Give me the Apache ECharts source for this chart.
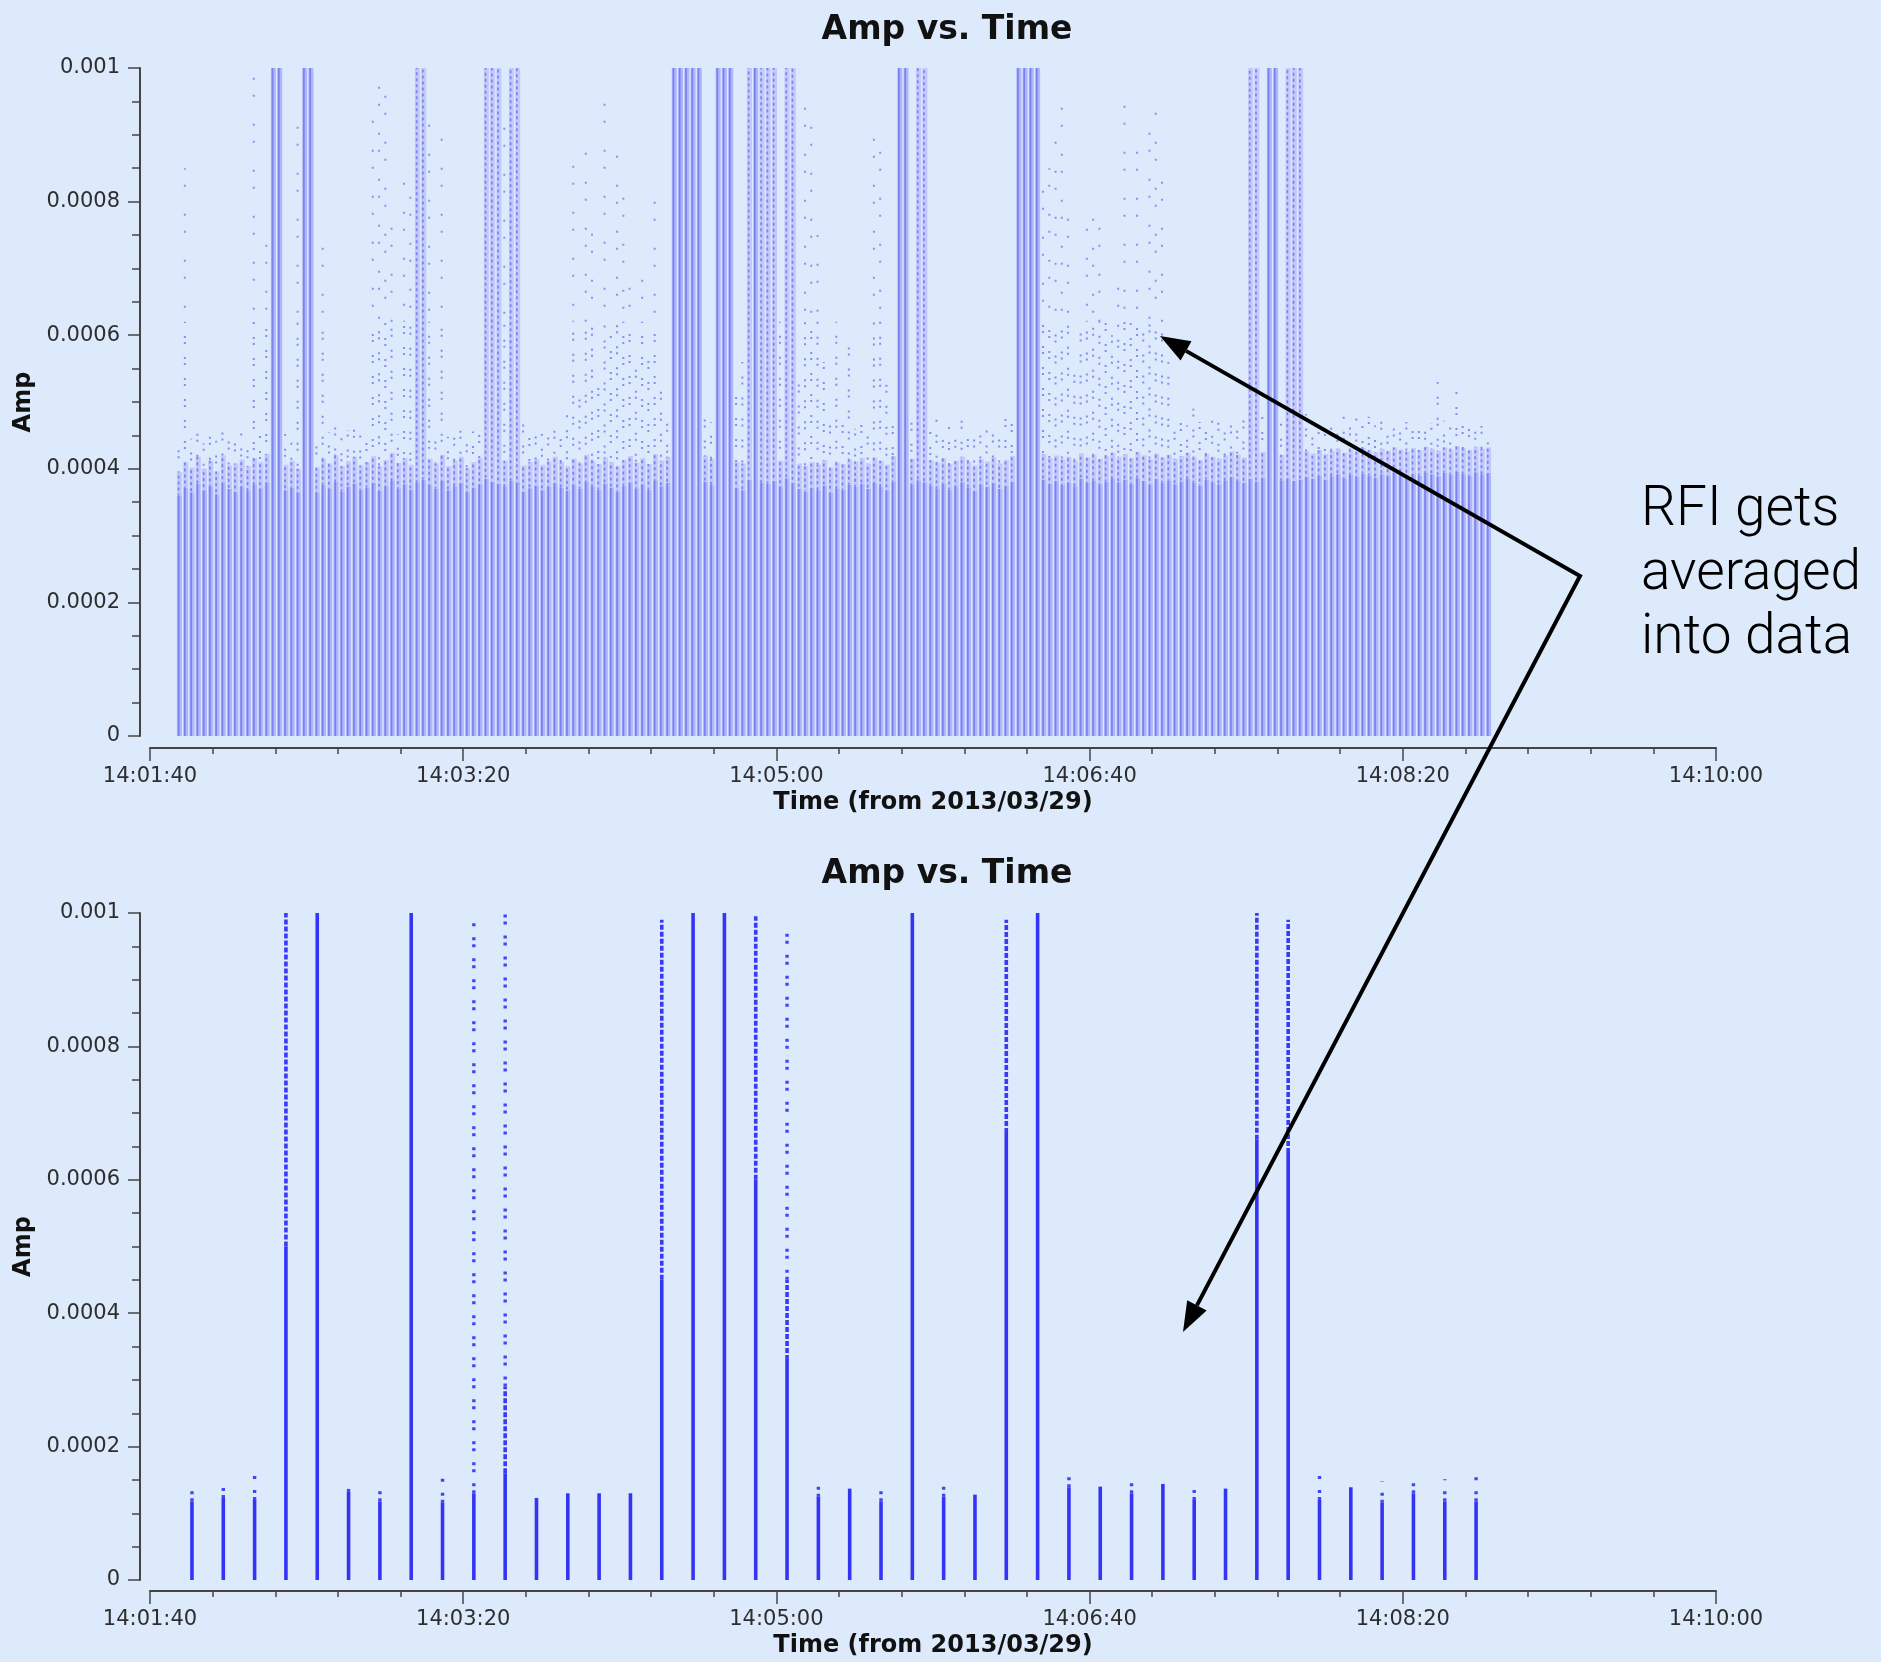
<!DOCTYPE html>
<html><head><meta charset="utf-8">
<script src="https://cdn.jsdelivr.net/npm/echarts@6/dist/echarts.min.js"></script>
<style>html,body{margin:0;padding:0;background:#dceafc;}#c{width:1881px;height:1662px;}</style>
</head><body><div id="c"></div><script>
// ---------- data (amplitudes in units of 1e-6) ----------
const AMP_UNIT = 1e-6;
// time grid, seconds of day (14:01:40 = 50500 s)
const TOP_T0 = 50509.4, TOP_DT = 2;   // 2 s integrations (upper panel)
const BOT_T0 = 50513.4, BOT_DT = 10;  // 10 s averages (lower panel)
const xTickLabels = ['14:01:40','14:03:20','14:05:00','14:06:40','14:08:20','14:10:00'];
const yTickLabels = ['0','0.0002','0.0004','0.0006','0.0008','0.001'];

// upper panel: top of solid points, top of dense points, top of sparse points
const topSolid = [
 360,372,365,378,368,375,362,380,370,366,
 374,368,377,371,380,1000,1000,368,372,365,
 1000,1000,364,376,370,381,366,373,378,369,
 372,379,367,375,383,371,377,369,380,384,
 376,370,382,368,374,379,365,372,377,385,
 381,378,374,383,380,366,371,375,368,373,
 379,372,367,376,370,381,374,369,378,372,
 366,375,380,371,377,369,383,374,379,1000,
 1000,1000,1000,1000,381,376,1000,1000,1000,372,
 368,384,1000,380,378,382,374,386,379,370,
 366,372,368,375,364,371,369,376,373,378,
 370,379,374,368,381,1000,1000,377,383,380,
 375,371,378,369,374,380,372,367,376,373,
 379,370,375,381,1000,1000,1000,1000,384,378,
 382,376,380,374,385,379,383,377,381,386,
 380,384,378,387,382,376,385,379,383,377,
 381,386,379,375,384,380,377,382,388,383,
 379,385,381,387,1000,1000,383,386,382,384,
 388,385,390,384,389,392,386,391,388,393,
 390,387,392,389,394,391,388,393,390,395,
 392,389,394,391,396,393,390,395,392,394];
const topDense = [
 395,410,402,418,400,412,396,420,405,408,
 414,404,416,410,422,1000,1000,406,412,400,
 1000,1000,402,415,408,420,404,411,418,405,
 410,419,404,413,424,409,416,406,1000,1000,
 415,408,421,404,412,418,401,410,416,1000,
 1000,1000,412,1000,1000,405,410,414,406,411,
 418,410,404,415,408,421,412,407,417,410,
 404,413,419,409,416,407,422,412,418,1000,
 1000,1000,1000,1000,420,415,1000,1000,1000,410,
 408,1000,1000,1000,1000,1000,412,1000,1000,408,
 404,410,406,413,402,409,407,414,411,416,
 408,417,412,406,419,1000,1000,415,1000,1000,
 413,409,416,407,412,418,410,405,414,411,
 417,408,413,419,1000,1000,1000,1000,422,416,
 420,414,418,412,423,417,421,415,419,424,
 418,422,416,425,420,414,423,417,421,415,
 419,424,417,413,422,418,415,420,426,421,
 417,1000,1000,425,1000,1000,421,1000,1000,1000,
 426,423,428,422,427,430,424,429,426,431,
 428,425,430,427,432,429,426,431,428,433,
 430,427,432,429,434,431,428,433,430,432];
const topSparse = [
 440,850,445,455,438,450,442,460,448,452,
 456,447,1000,450,760,1000,1000,452,445,915,
 1000,1000,448,750,455,462,446,458,465,450,
 455,930,1000,970,790,452,850,810,1000,1000,
 920,455,900,448,460,470,445,456,462,1000,
 1000,1000,950,1000,1000,470,458,465,452,460,
 468,455,480,890,520,880,770,540,950,600,
 880,840,700,560,720,580,800,520,470,1000,
 1000,1000,1000,1000,480,470,1000,1000,1000,520,
 560,1000,1000,1000,1000,1000,620,1000,1000,540,
 950,930,750,560,480,620,470,590,460,480,
 465,920,900,530,470,1000,1000,480,1000,1000,
 460,475,455,468,450,472,460,448,466,458,
 470,462,475,480,1000,1000,1000,1000,820,850,
 890,960,780,560,620,760,790,770,650,600,
 710,960,640,890,620,930,950,840,560,470,
 480,465,490,470,455,472,485,468,478,462,
 475,1000,1000,480,1000,1000,470,1000,1000,1000,
 482,475,478,470,474,468,480,472,476,470,
 478,465,472,468,475,462,470,466,474,460,
 468,530,472,465,520,470,462,468,464,458];

// lower panel (10 s averages)
const botSolid = [
 118,123,120,500,1000,132,118,1000,116,130,
 160,123,130,130,130,450,1000,1000,600,330,
 125,137,118,1000,125,128,670,1000,139,140,
 130,144,120,137,660,640,120,139,116,130,
 118,118];
const botDense = [
 118,123,120,1000,1000,132,118,1000,116,130,
 290,123,130,130,130,990,1000,1000,995,450,
 125,137,118,1000,125,128,990,1000,139,140,
 130,144,120,137,1000,990,120,139,116,130,
 118,118];
const botSparse = [
 142,142,157,1000,1000,137,142,1000,155,990,
 1000,123,130,130,130,990,1000,1000,995,975,
 150,137,142,1000,144,128,990,1000,156,140,
 151,144,142,137,1000,990,156,139,148,151,
 151,156];

// ---------- build ----------
const topData = topSolid.map((s,i)=>[TOP_T0+TOP_DT*i, s*AMP_UNIT, topDense[i]*AMP_UNIT, topSparse[i]*AMP_UNIT]);
const botData = botSolid.map((s,i)=>[BOT_T0+BOT_DT*i, s*AMP_UNIT, botDense[i]*AMP_UNIT, botSparse[i]*AMP_UNIT]);
const DENSE_SPLIT = 0.00062; // sparse points thin out above this level (styling)
// deterministic dash phase per column, to avoid moire between neighbouring columns
const phase = (k, m) => ((k*k*13 + k*29 + 7) % 41) % m;

function renderTop(params, api){
  const t=api.value(0), s=api.value(1), d=api.value(2), p=api.value(3);
  const b=api.coord([t,0]), cs=api.coord([t,s]), cd=api.coord([t,d]), cp=api.coord([t,p]);
  const x=b[0], ch=[], k=params.dataIndex;
  ch.push({type:'rect', shape:{x:x-2.5,y:cs[1],width:5,height:b[1]-cs[1]}, style:{fill:'#b0b6fa'}});
  ch.push({type:'rect', shape:{x:x-1.7,y:cs[1],width:1.7,height:b[1]-cs[1]}, style:{fill:'#7a81f0'}});
  if(d>s){
    ch.push({type:'rect', shape:{x:x-2.5,y:cd[1],width:5,height:cs[1]-cd[1]}, style:{fill:'#c4c9fb'}});
    ch.push({type:'line', shape:{x1:x-0.85,y1:cs[1],x2:x-0.85,y2:cd[1]}, style:{stroke:'#7a81f0',lineWidth:1.7,lineDash:[3,3],lineDashOffset:phase(k,6)}});
  }
  if(p>d){
    const pm = Math.min(p, Math.max(d, DENSE_SPLIT));
    const cm = api.coord([t,pm]);
    ch.push({type:'line', shape:{x1:x-0.85,y1:cd[1],x2:x-0.85,y2:cm[1]}, style:{stroke:'#858cf2',lineWidth:2,lineDash:[2,4,2,13],lineDashOffset:phase(k,21)}});
    if(p>pm) ch.push({type:'line', shape:{x1:x-0.85,y1:cm[1],x2:x-0.85,y2:cp[1]}, style:{stroke:'#8b92f3',lineWidth:2,lineDash:[2,15,2,27],lineDashOffset:phase(k+3,41)}});
  }
  return {type:'group', children:ch};
}
function renderBot(params, api){
  const t=api.value(0), s=api.value(1), d=api.value(2), p=api.value(3);
  const b=api.coord([t,0]), cs=api.coord([t,s]), cd=api.coord([t,d]), cp=api.coord([t,p]);
  const x=b[0], ch=[];
  ch.push({type:'line', shape:{x1:x,y1:b[1],x2:x,y2:cs[1]}, style:{stroke:'#3434f5',lineWidth:3.6}});
  if(d>s) ch.push({type:'line', shape:{x1:x,y1:cs[1],x2:x,y2:cd[1]}, style:{stroke:'#3a3af5',lineWidth:3.6,lineDash:[5,2]}});
  if(p>d) ch.push({type:'line', shape:{x1:x,y1:cd[1],x2:x,y2:cp[1]}, style:{stroke:'#4444f5',lineWidth:3.4,lineDash:[3,4,3,11]}});
  return {type:'group', children:ch};
}

function textW(font, s){const c=document.createElement('canvas').getContext('2d'); c.font=font; return c.measureText(s).width;}
const FONT='DejaVu Sans';
const titleW = textW('bold 33px "DejaVu Sans"','Amp vs. Time');
const fmtX = v => xTickLabels[Math.round((v-50500)/100)];
const fmtY = v => yTickLabels[Math.round(v/0.0002)];

function xAx(g, off){
  return {gridIndex:g, type:'value', min:50500, max:51000, interval:100, offset:off,
    axisLine:{show:true,onZero:false,lineStyle:{color:'#444',width:2}},
    axisTick:{show:true,length:13,lineStyle:{color:'#444',width:1.5}},
    minorTick:{show:true,splitNumber:5,length:6,lineStyle:{color:'#444',width:1.5}},
    splitLine:{show:false},
    axisLabel:{margin:18,color:'#2e2e2e',fontFamily:FONT,fontSize:21,formatter:fmtX},
    name:'Time (from 2013/03/29)', nameLocation:'middle', nameGap:43,
    nameTextStyle:{color:'#111',fontFamily:FONT,fontWeight:'bold',fontSize:24}};
}
function yAx(g){
  return {gridIndex:g, type:'value', min:0, max:0.001, interval:0.0002, offset:10,
    axisLine:{show:true,lineStyle:{color:'#444',width:2}},
    axisTick:{show:true,length:12,lineStyle:{color:'#444',width:1.5}},
    minorTick:{show:true,splitNumber:4,length:8,lineStyle:{color:'#444',width:1.5}},
    splitLine:{show:false},
    axisLabel:{margin:20,color:'#2e2e2e',fontFamily:FONT,fontSize:21,formatter:fmtY},
    name:'Amp', nameLocation:'middle', nameGap:90,
    nameTextStyle:{color:'#111',fontFamily:FONT,fontWeight:'bold',fontSize:24}};
}

// annotation arrows
function head(tip, from, L, W){
  const dx=tip[0]-from[0], dy=tip[1]-from[1], n=Math.hypot(dx,dy), ux=dx/n, uy=dy/n;
  const bx=tip[0]-ux*L, by=tip[1]-uy*L;
  return {base:[bx,by], pts:[tip,[bx-uy*W,by+ux*W],[bx+uy*W,by-ux*W]]};
}
const V=[1580,576], T1=[1160,336], T2=[1183,1332];
const h1=head(T1,V,30,11), h2=head(T2,V,30,11);

const chart = echarts.init(document.getElementById('c'), null, {renderer:'canvas'});
chart.setOption({
  backgroundColor:'#dceafc',
  animation:false,
  title:[
    {text:'Amp vs. Time', left:947-titleW/2, top:14, padding:0, textStyle:{fontFamily:FONT,fontWeight:'bold',fontSize:33,color:'#111'}},
    {text:'Amp vs. Time', left:947-titleW/2, top:858, padding:0, textStyle:{fontFamily:FONT,fontWeight:'bold',fontSize:33,color:'#111'}}
  ],
  grid:[{left:150,width:1566,top:68,height:668},{left:150,width:1566,top:913,height:667}],
  xAxis:[xAx(0,12), xAx(1,11)],
  yAxis:[yAx(0), yAx(1)],
  series:[
    {type:'custom', name:'Amp (2 s)', xAxisIndex:0, yAxisIndex:0, clip:true, renderItem:renderTop, encode:{x:0,y:[1,2,3]}, data:topData},
    {type:'custom', name:'Amp (10 s avg)', xAxisIndex:1, yAxisIndex:1, clip:true, renderItem:renderBot, encode:{x:0,y:[1,2,3]}, data:botData}
  ],
  graphic:[
    {type:'polyline', shape:{points:[h1.base, V, h2.base]}, style:{stroke:'#000',lineWidth:4,fill:null,lineJoin:'miter'}, z:100},
    {type:'polygon', shape:{points:h1.pts}, style:{fill:'#000'}, z:100},
    {type:'polygon', shape:{points:h2.pts}, style:{fill:'#000'}, z:100},
    {type:'text', x:1641, y:479, z:100, style:{text:'RFI gets\naveraged\ninto data', font:'300 55px Roboto, Lato, sans-serif', fill:'#000', lineHeight:64, verticalAlign:'top'}}
  ]
});
</script></body></html>
